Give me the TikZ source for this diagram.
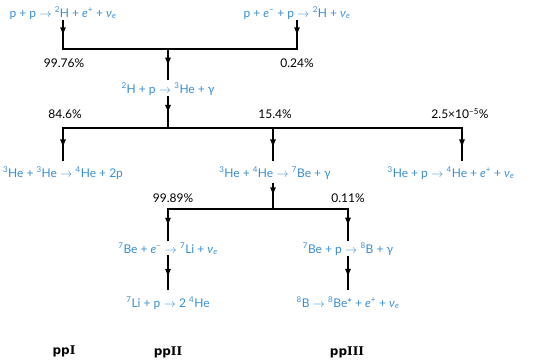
\documentclass[tikz,border=0pt]{standalone}
\usepackage{fontspec}
\setmainfont{Lato}
\newfontfamily\ppsans{DejaVu Sans}
\newfontfamily\ppserif{DejaVu Serif}
\usetikzlibrary{arrows.meta,positioning,decorations.markings}

\definecolor{rxnblue}{RGB}{56,142,212}
\newcommand{\nuc}[2]{\textsuperscript{#1}#2}
\newcommand{\rxto}{\;\ensuremath{\rightarrow}\;}
\newcommand{\eplus}{\textit{e}\textsuperscript{+}}
\newcommand{\eminus}{\textit{e}\textsuperscript{−}}
\newcommand{\nue}{\textit{ν}\textsubscript{\textit{e}}}
\newcommand{\ppname}[1]{{\ppsans\bfseries pp}{\ppserif\bfseries #1}}

\begin{document}
\begin{tikzpicture}[
  x=1pt, y=-1pt,
  every node/.style={font=\fontsize{12}{14}\selectfont},
  rxn/.style ={text=rxnblue, inner sep=1.5pt},
  pct/.style ={text=black, inner sep=1pt},
  chain/.style={font=\fontsize{12}{14}\selectfont},
  bar/.style ={line width=2.6pt, line cap=rect},
  flow/.style={bar, decoration={markings,
               mark=at position 0.55 with {\arrow{Latex[length=9pt,width=6pt]}}},
               postaction=decorate}
]
\useasboundingbox (0,0) rectangle (540,362);

% reactions
\node[rxn] (pp)   at (63,13)  {p + p\rxto\nuc{2}{H} + \eplus{} + \nue};
\node[rxn] (pep)  at (297,13) {p + \eminus{} + p\rxto\nuc{2}{H} + \nue};
\node[rxn] (dp)   at (168,89) {\nuc{2}{H} + p\rxto\nuc{3}{He} + γ};
\node[rxn] (he33) at (63,173)  {\nuc{3}{He} + \nuc{3}{He}\rxto\nuc{4}{He} + 2p};
\node[rxn] (he34) at (275,173) {\nuc{3}{He} + \nuc{4}{He}\rxto\nuc{7}{Be} + γ};
\node[rxn] (hep)  at (451,173) {\nuc{3}{He} + p\rxto\nuc{4}{He} + \eplus{} + \nue};
\node[rxn] (be7e) at (168,249) {\nuc{7}{Be} + \eminus{}\rxto\nuc{7}{Li} + \nue};
\node[rxn] (be7p) at (348,249) {\nuc{7}{Be} + p\rxto\nuc{8}{B} + γ};
\node[rxn] (li7p) at (168,303) {\nuc{7}{Li} + p\rxto 2 \nuc{4}{He}};
\node[rxn] (b8)   at (348,303) {\nuc{8}{B}\rxto\nuc{8}{Be}* + \eplus{} + \nue};

% branching points
\coordinate (j1)  at (168,49);
\coordinate (j2)  at (168,128);
\coordinate (j2r) at (462,128);
\coordinate (j3)  at (273,209);

% branching ratios
\node[pct] (r9976) at (64,63)   {99.76\%};
\node[pct] (r024)  at (297,63)  {0.24\%};
\node[pct] (r846)  at (65,114)  {84.6\%};
\node[pct] (r154)  at (275,114) {15.4\%};
\node[pct] (r25)   at (460,114) {2.5×10\textsuperscript{−5}\%};
\node[pct] (r9989) at (173,198) {99.89\%};
\node[pct] (r011)  at (348,198) {0.11\%};

% chain names
\node[chain] (ppI)   at (64,351)  {\ppname{I}};
\node[chain] (ppII)  at (168,352) {\ppname{II}};
\node[chain] (ppIII) at (347,352) {\ppname{III}};

% step 1
\draw[flow] (pp)  -- (pp |- j1);
\draw[flow] (pep) -- (pep |- j1);
\draw[bar]  (pp |- j1) -- (pep |- j1);
\draw[flow, shorten >=2pt] (j1) -- (dp);

% step 2
\draw[flow] (dp) -- (j2);
\draw[bar]  (he33 |- j2) -- (j2r);
\draw[flow, shorten >=6pt] (he33 |- j2) -- (he33);
\draw[flow, shorten >=6pt] (j3 |- j2) -- (j3 |- he34.north);
\draw[flow, shorten >=6pt] (j2r) -- (j2r |- hep.north);

% ppII / ppIII
\draw[flow, shorten <=3pt] (j3 |- he34.south) -- (j3);
\draw[bar]  (be7e |- j3) -- (be7p |- j3);
\draw[flow, shorten >=2pt] (be7e |- j3) -- (be7e);
\draw[flow, shorten >=2pt] (be7p |- j3) -- (be7p);
\draw[flow, shorten >=7pt] (be7e) -- (li7p);
\draw[flow, shorten >=7pt] (be7p) -- (b8);

\end{tikzpicture}
\end{document}
